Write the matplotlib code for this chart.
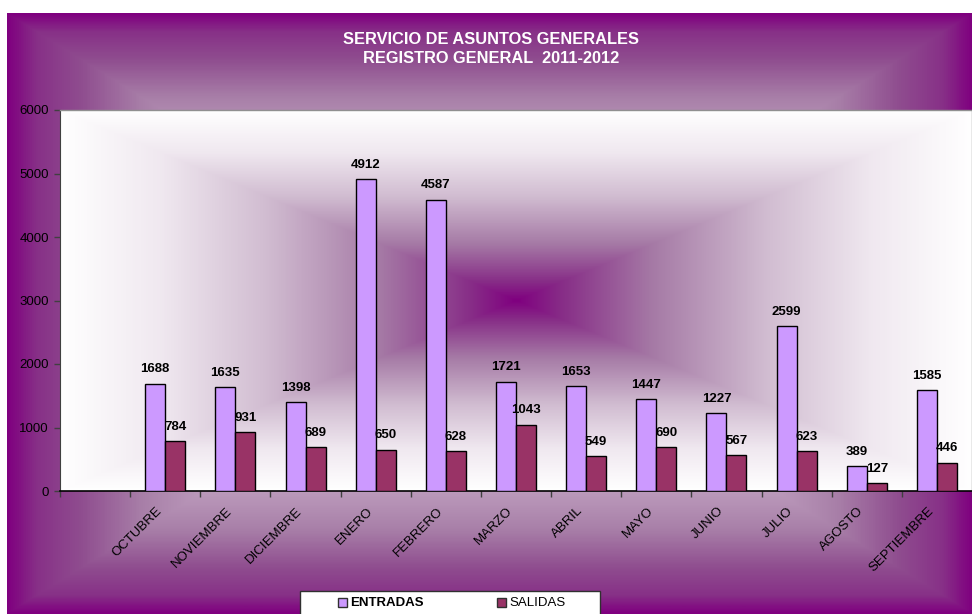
import numpy as np
import matplotlib
matplotlib.use('Agg')
import matplotlib.pyplot as plt
from matplotlib.colors import LinearSegmentedColormap
from matplotlib.patches import Rectangle
from matplotlib.transforms import ScaledTranslation

plt.rcParams['font.family'] = ['Liberation Sans', 'DejaVu Sans']

months = ['OCTUBRE', 'NOVIEMBRE', 'DICIEMBRE', 'ENERO', 'FEBRERO', 'MARZO',
          'ABRIL', 'MAYO', 'JUNIO', 'JULIO', 'AGOSTO', 'SEPTIEMBRE']
entradas = [1688, 1635, 1398, 4912, 4587, 1721, 1653, 1447, 1227, 2599, 389, 1585]
salidas = [784, 931, 689, 650, 628, 1043, 549, 690, 567, 623, 127, 446]
series_names = ['ENTRADAS', 'SALIDAS']
series_colors = ['#cc99ff', '#993366']

W, H = 972, 614


def rect_gradient(w, h):
    # "from centre" rectangular gradient, 0 at centre, 1 on the border
    xs = np.linspace(-1, 1, w)
    ys = np.linspace(-1, 1, h)
    gx, gy = np.meshgrid(np.abs(xs), np.abs(ys))
    return np.maximum(gx, gy)


outer_cmap = LinearSegmentedColormap.from_list('outer', [
    (0.0, (0.86, 0.78, 0.86)),
    (0.55, (0.76, 0.64, 0.76)),
    (0.72, (0.66, 0.50, 0.66)),
    (0.85, (0.56, 0.30, 0.56)),
    (0.94, (0.53, 0.19, 0.53)),
    (1.0, (0.50, 0.0, 0.50)),
])
inner_cmap = LinearSegmentedColormap.from_list('inner', [
    (0.0, (0.50, 0.0, 0.50)),
    (0.1, (0.53, 0.18, 0.53)),
    (0.3, (0.65, 0.48, 0.65)),
    (0.55, (0.82, 0.74, 0.82)),
    (0.78, (0.94, 0.91, 0.94)),
    (1.0, (1.0, 1.0, 1.0)),
])

fig = plt.figure(figsize=(W / 100, H / 100), dpi=100)
fig.patch.set_facecolor('white')

# outer chart area
bg = fig.add_axes([0, 0, 1, 1])
bg.set_xlim(0, W)
bg.set_ylim(H, 0)
bg.axis('off')
bg.imshow(rect_gradient(W - 7, H - 13), cmap=outer_cmap, vmin=0, vmax=1,
          extent=(7, W, H, 13), aspect='auto', interpolation='bilinear')

# plot area
left, top, right, bottom = 60, 110, 972, 491
pos = [left / W, 1 - bottom / H, (right - left) / W, (bottom - top) / H]
pa = fig.add_axes(pos)
pa.axis('off')
pa.imshow(rect_gradient(right - left, bottom - top), cmap=inner_cmap, vmin=0,
          vmax=1, extent=(0, 1, 0, 1), aspect='auto', interpolation='bilinear')

ax = fig.add_axes(pos)
ax.patch.set_alpha(0)

x = np.arange(1, len(months) + 1)
bw = 0.285
bars1 = ax.bar(x - bw / 2, entradas, bw, color=series_colors[0],
               edgecolor='black', linewidth=1, zorder=3)
bars2 = ax.bar(x + bw / 2, salidas, bw, color=series_colors[1],
               edgecolor='black', linewidth=1, zorder=3)
for bars, vals in ((bars1, entradas), (bars2, salidas)):
    for b, v in zip(bars, vals):
        ax.annotate(str(v), (b.get_x() + b.get_width() / 2, v),
                    xytext=(0, 6), textcoords='offset points',
                    ha='center', va='bottom', fontsize=9.5,
                    fontweight='bold', color='black')

ax.set_xlim(-0.5, 12.5)
ax.set_ylim(0, 6000)
ax.set_yticks(range(0, 6001, 1000))
ax.tick_params(axis='y', length=4, width=1, color='#404040', pad=4,
               labelsize=9.5, labelcolor='black')

ax.set_xticks(x)
ax.set_xticklabels(months, rotation=45, ha='right', va='center',
                   rotation_mode='anchor', fontsize=9.5)
ax.tick_params(axis='x', which='major', length=0, pad=13)
shift = ScaledTranslation(-0.05, 0, fig.dpi_scale_trans)
for lab in ax.get_xticklabels():
    lab.set_transform(lab.get_transform() + shift)
ax.set_xticks(np.arange(-0.5, 12.6, 1), minor=True)
ax.tick_params(axis='x', which='minor', length=4, width=1, color='#404040')

for side in ('top', 'right'):
    ax.spines[side].set_color('#909090')
    ax.spines[side].set_linewidth(1)
ax.spines['left'].set_color('#404040')
ax.spines['bottom'].set_color('black')
ax.spines['bottom'].set_linewidth(1.2)

fig.text(491 / W, 1 - 49 / H, 'SERVICIO DE ASUNTOS GENERALES\nREGISTRO GENERAL  2011-2012',
         ha='center', va='center', color='white', fontsize=11.8,
         fontweight='bold', linespacing=1.4)

# legend box at the bottom
bg.add_patch(Rectangle((300, 591), 300, 30, facecolor='white',
                       edgecolor='#303030', linewidth=1))
for px, name, col, wt in ((338, series_names[0], series_colors[0], 'bold'),
                          (497, series_names[1], series_colors[1], 'normal')):
    bg.add_patch(Rectangle((px, 598), 9, 9, facecolor=col,
                           edgecolor='#303030', linewidth=1))
    bg.text(px + 12, 602.5, name, ha='left', va='center', fontsize=9.5,
            fontweight=wt, color='black')

fig.savefig('out.png', dpi=100)
